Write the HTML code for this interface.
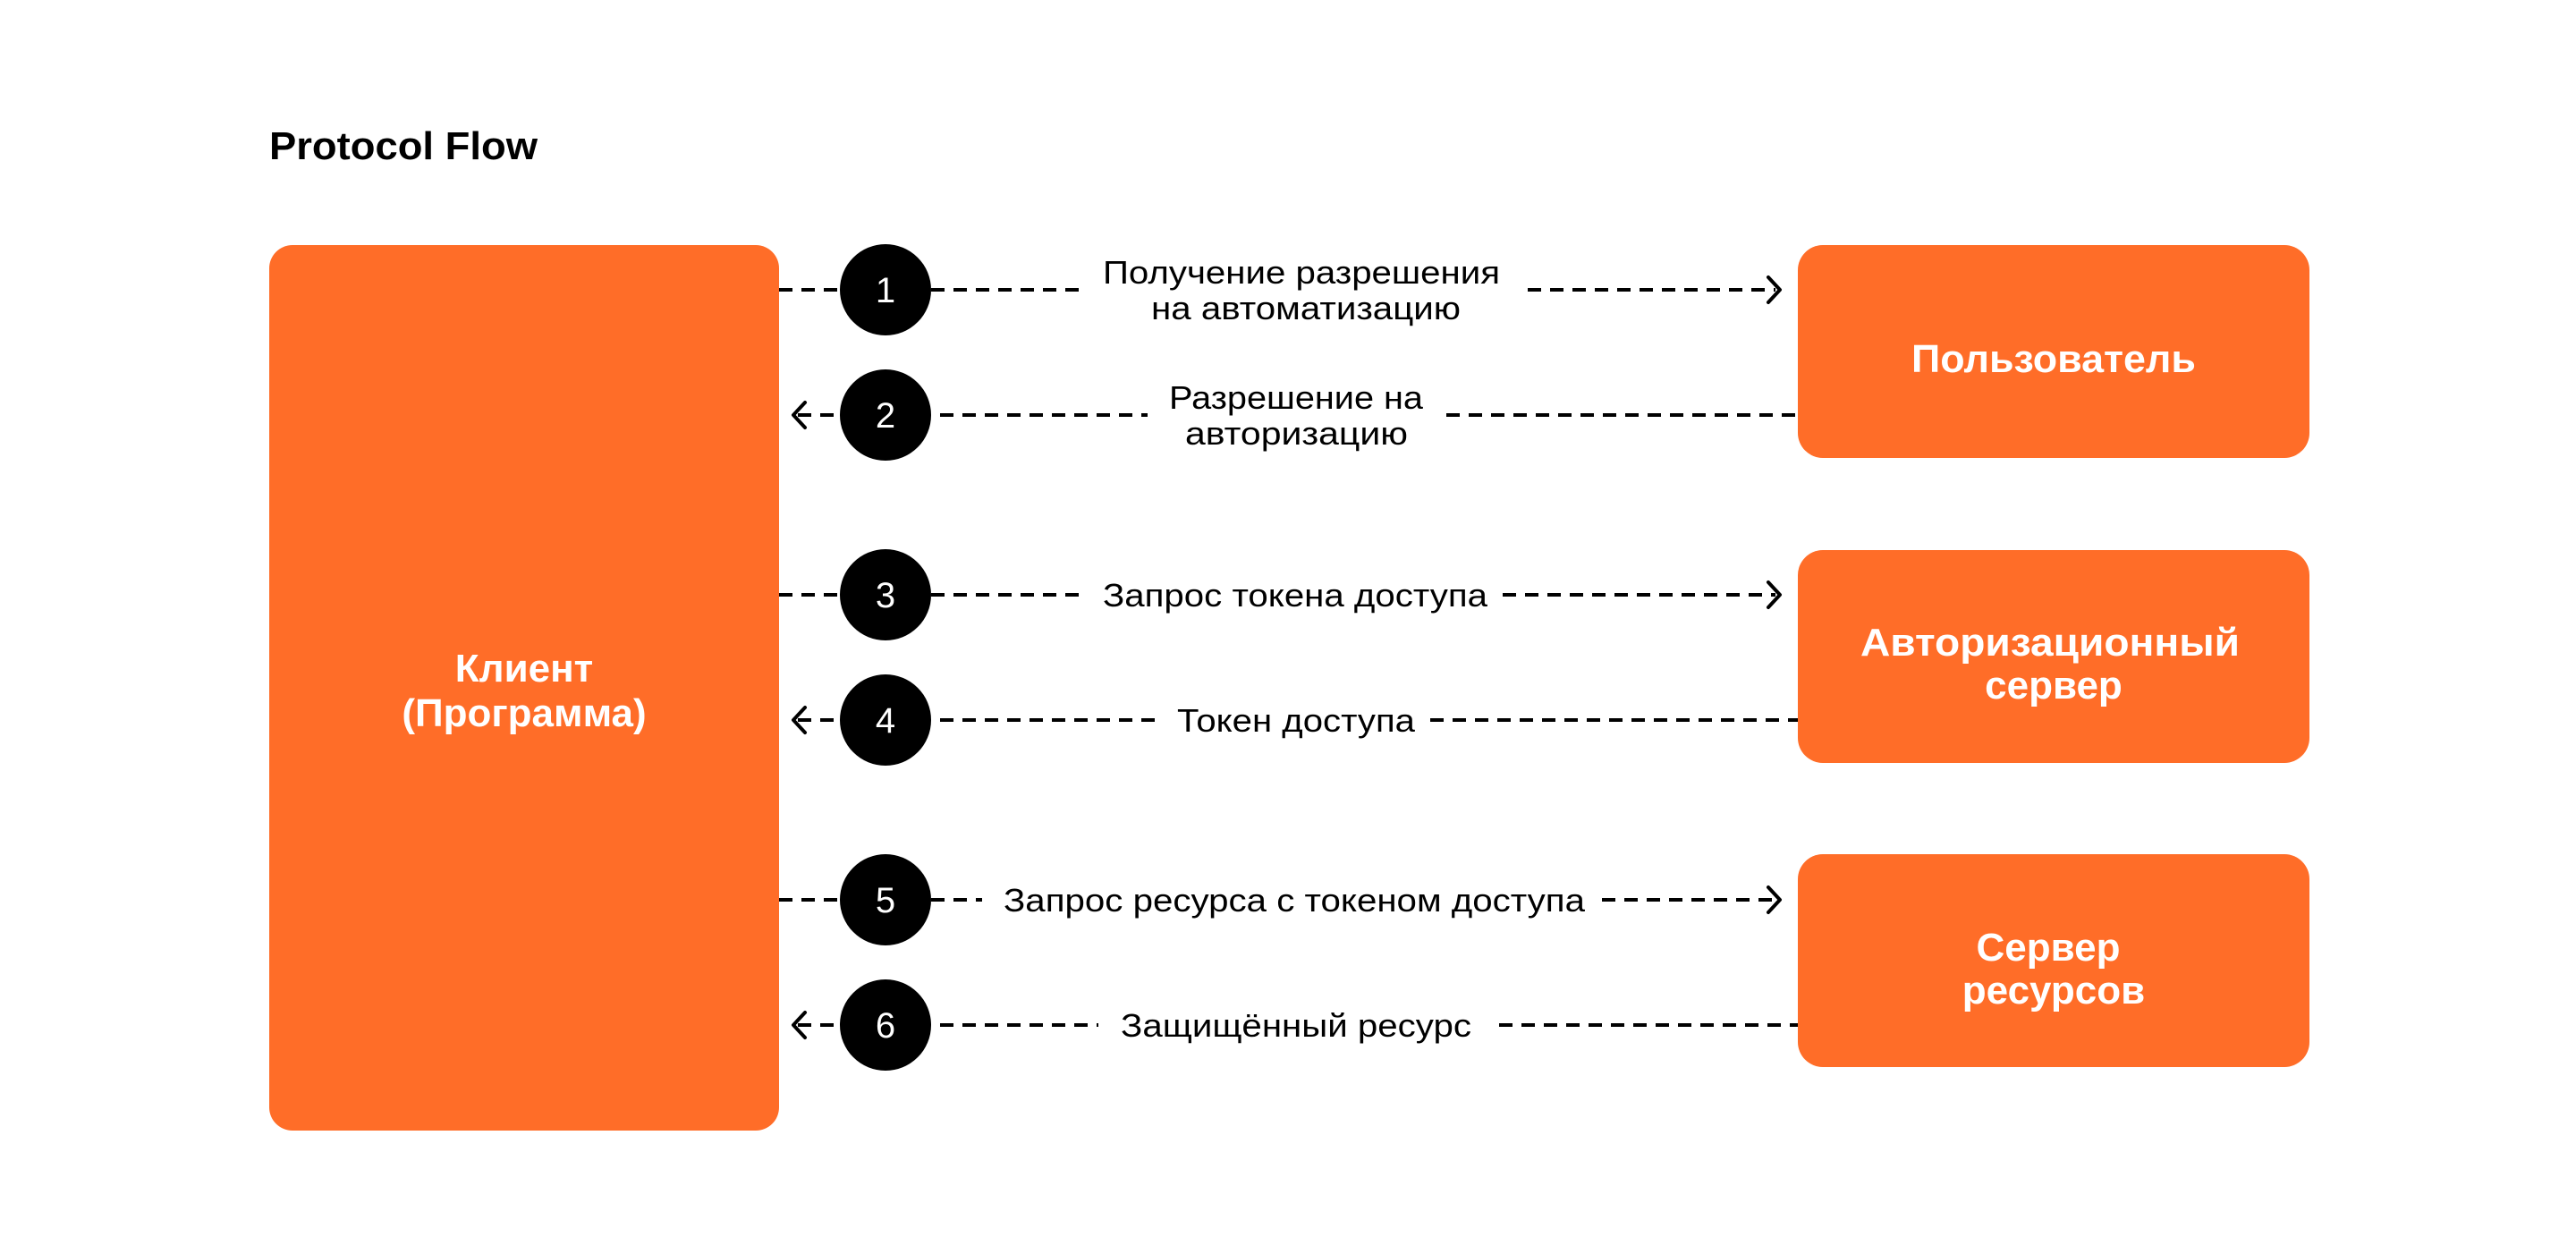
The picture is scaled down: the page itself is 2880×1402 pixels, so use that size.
<!DOCTYPE html>
<html><head><meta charset="utf-8"><style>
html,body{margin:0;padding:0;background:#fff;}
svg{display:block}
text{font-family:"Liberation Sans","DejaVu Sans",sans-serif;}
</style></head><body>
<svg width="2880" height="1402" viewBox="0 0 2880 1402" xmlns="http://www.w3.org/2000/svg">
<rect width="2880" height="1402" fill="#fff"/>
<text x="301" y="178" font-size="44" font-weight="bold" fill="#000" textLength="300" lengthAdjust="spacingAndGlyphs">Protocol Flow</text>

<rect x="301" y="274" width="570" height="990" rx="26" fill="#ff6d28"/>
<text x="586" y="762" font-size="44" font-weight="bold" fill="#fff" text-anchor="middle">Клиент</text>
<text x="586" y="812" font-size="44" font-weight="bold" fill="#fff" text-anchor="middle">(Программа)</text>

<rect x="2010" y="274" width="572" height="238" rx="28" fill="#ff6d28"/>
<text x="2296" y="416" font-size="44" font-weight="bold" fill="#fff" text-anchor="middle" textLength="318" lengthAdjust="spacingAndGlyphs">Пользователь</text>
<rect x="2010" y="615" width="572" height="238" rx="28" fill="#ff6d28"/>
<text x="2292" y="733" font-size="44" font-weight="bold" fill="#fff" text-anchor="middle" textLength="424" lengthAdjust="spacingAndGlyphs">Авторизационный</text>
<text x="2296" y="781" font-size="44" font-weight="bold" fill="#fff" text-anchor="middle">сервер</text>
<rect x="2010" y="955" width="572" height="238" rx="28" fill="#ff6d28"/>
<text x="2290" y="1074" font-size="44" font-weight="bold" fill="#fff" text-anchor="middle">Сервер</text>
<text x="2296" y="1122" font-size="44" font-weight="bold" fill="#fff" text-anchor="middle">ресурсов</text>

<g stroke="#000" stroke-width="4" stroke-dasharray="15 10" fill="none">
<line x1="871" y1="324" x2="939" y2="324"/><line x1="1041" y1="324" x2="1209" y2="324"/><line x1="1708" y1="324" x2="1985" y2="324"/>
<line x1="892" y1="464" x2="939" y2="464"/><line x1="1051" y1="464" x2="1283" y2="464"/><line x1="1617" y1="464" x2="2010" y2="464"/>
<line x1="871" y1="665" x2="939" y2="665"/><line x1="1041" y1="665" x2="1209" y2="665"/><line x1="1680" y1="665" x2="1985" y2="665"/>
<line x1="892" y1="805" x2="939" y2="805"/><line x1="1051" y1="805" x2="1301" y2="805"/><line x1="1599" y1="805" x2="2010" y2="805"/>
<line x1="871" y1="1006" x2="939" y2="1006"/><line x1="1041" y1="1006" x2="1098" y2="1006"/><line x1="1791" y1="1006" x2="1985" y2="1006"/>
<line x1="892" y1="1146" x2="939" y2="1146"/><line x1="1051" y1="1146" x2="1228" y2="1146"/><line x1="1676" y1="1146" x2="2010" y2="1146"/>
</g>
<g stroke="#000" stroke-width="4" fill="none" stroke-linecap="round" stroke-linejoin="round">
<polyline points="1977,310 1990,324 1977,338"/>
<polyline points="1977,651 1990,665 1977,679"/>
<polyline points="1977,992 1990,1006 1977,1020"/>
<polyline points="900,450 887,464 900,478"/>
<polyline points="900,791 887,805 900,819"/>
<polyline points="900,1132 887,1146 900,1160"/>
</g>

<g fill="#000">
<circle cx="990" cy="324" r="51"/><circle cx="990" cy="464" r="51"/>
<circle cx="990" cy="665" r="51"/><circle cx="990" cy="805" r="51"/>
<circle cx="990" cy="1006" r="51"/><circle cx="990" cy="1146" r="51"/>
</g>
<g fill="#fff" font-size="40" text-anchor="middle">
<text x="990" y="338">1</text><text x="990" y="478">2</text>
<text x="990" y="679">3</text><text x="990" y="819">4</text>
<text x="990" y="1020">5</text><text x="990" y="1160">6</text>
</g>

<g fill="#000" font-size="36">
<text x="1233" y="317" textLength="444" lengthAdjust="spacingAndGlyphs">Получение разрешения</text>
<text x="1287" y="357" textLength="346" lengthAdjust="spacingAndGlyphs">на автоматизацию</text>
<text x="1307" y="457" textLength="284" lengthAdjust="spacingAndGlyphs">Разрешение на</text>
<text x="1325" y="497" textLength="249" lengthAdjust="spacingAndGlyphs">авторизацию</text>
<text x="1233" y="678" textLength="430" lengthAdjust="spacingAndGlyphs">Запрос токена доступа</text>
<text x="1316" y="818" textLength="266" lengthAdjust="spacingAndGlyphs">Токен доступа</text>
<text x="1122" y="1019" textLength="650" lengthAdjust="spacingAndGlyphs">Запрос ресурса с токеном доступа</text>
<text x="1253" y="1159" textLength="392" lengthAdjust="spacingAndGlyphs">Защищённый ресурс</text>
</g>
</svg>
</body></html>
